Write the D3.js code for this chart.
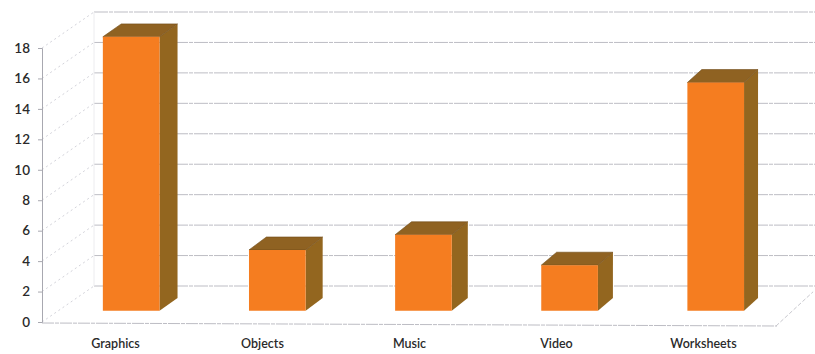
<!DOCTYPE html>
<html><head><meta charset="utf-8">
<script src="https://cdn.jsdelivr.net/npm/d3@7"></script>
<style>html,body{margin:0;padding:0;background:#fff;}svg{display:block;}</style>
</head><body>
<script>
const categories = ["Graphics", "Objects", "Music", "Video", "Worksheets"];
const values = [18, 4, 5, 3, 15];
const yTicks = [0, 2, 4, 6, 8, 10, 12, 14, 16, 18];

const W = 815, H = 354;
const svg = d3.select("body").append("svg").attr("width", W).attr("height", H);

const x = d3.scaleBand().domain(categories).range([42, 777]).paddingInner(0).paddingOuter(0);
const y = d3.scaleLinear().domain([0, 18]).range([322, 48]);

// oblique depth projection with slight perspective
const depthY = 36;
function D(px) { return 52 - 14 * (px - 42) / 735; }
function P(px, py, z) { return [px + z * D(px), py - z * depthY]; }
const line = pts => "M" + pts.map(p => p.join(",")).join("L") + "Z";
const path = pts => "M" + pts.map(p => p.join(",")).join("L");

const gridColor = "#bdbdc4";
const g = svg.append("g");

// back wall gridlines and left wall diagonals
yTicks.forEach(v => {
  const yf = y(v);
  const a = P(42, yf, 1);
  g.append("path").attr("d", path([a, [W + 5, a[1]]]))
    .attr("stroke", gridColor).attr("stroke-width", 1).attr("fill", "none")
    .attr("stroke-dasharray", "14,1,4,1");
  g.append("path").attr("d", path([[42, yf], a]))
    .attr("stroke", "#d3d3da").attr("stroke-width", 1).attr("fill", "none")
    .attr("stroke-dasharray", "2,3");
});
// left wall back edge
g.append("path").attr("d", path([P(42, y(0), 1), P(42, y(18), 1)]))
  .attr("stroke", "#ececef").attr("stroke-width", 1).attr("fill", "none");

// floor
g.append("path").attr("d", path([[42, y(0) + 1], [777, y(0) + 4]]))
  .attr("stroke", gridColor).attr("stroke-width", 1).attr("fill", "none").attr("stroke-dasharray", "12,1,4,1");
g.append("path").attr("d", path([[776, y(0) + 4], P(777, y(0) + 4, 0.95)]))
  .attr("stroke", "#c8c8ce").attr("stroke-width", 1).attr("fill", "none").attr("stroke-dasharray", "4,2");

// y axis
const yAxis = d3.axisLeft(y).tickValues(yTicks).tickSize(4).tickPadding(8).tickFormat(d3.format("d"));
const ax = svg.append("g").attr("transform", "translate(42,0)").call(yAxis);
ax.select(".domain").attr("stroke", "#a8a8b0");
ax.selectAll(".tick line").attr("stroke", "#a8a8b0");
ax.selectAll(".tick text").attr("font-family", "Lato, 'Open Sans', sans-serif")
  .attr("font-size", 13.5).attr("font-weight", 600).attr("fill", "#2a2a2a");

// bars
const zf = 0.31, zb = 0.67, barW = 57;
const bars = svg.append("g");
categories.forEach((c, i) => {
  const cx = x(c) + x.bandwidth() / 2;
  const x0 = cx - barW / 2, x1 = cx + barW / 2;
  const y0 = y(0), y1 = y(values[i]);
  const f = [P(x0, y0, zf), P(x1, y0, zf), P(x1, y1, zf), P(x0, y1, zf)];
  const s = [P(x1, y0, zf), P(x1, y0, zb), P(x1, y1, zb), P(x1, y1, zf)];
  const t = [P(x0, y1, zf), P(x1, y1, zf), P(x1, y1, zb), P(x0, y1, zb)];
  bars.append("path").attr("d", line(s)).attr("fill", "#93661f");
  bars.append("path").attr("d", line(t)).attr("fill", "#8f6222")
    .attr("stroke", "#6e4a16").attr("stroke-width", 0.6);
  bars.append("path").attr("d", line(f)).attr("fill", "#f57d20");
});

// category labels
svg.append("g").selectAll("text").data(categories).join("text")
  .attr("x", d => x(d) + x.bandwidth() / 2)
  .attr("y", 348)
  .attr("text-anchor", "middle")
  .attr("font-family", "Lato, 'Open Sans', sans-serif")
  .attr("font-size", 12.5).attr("font-weight", 600).attr("fill", "#2a2a2a")
  .text(d => d);
</script>
</body></html>
